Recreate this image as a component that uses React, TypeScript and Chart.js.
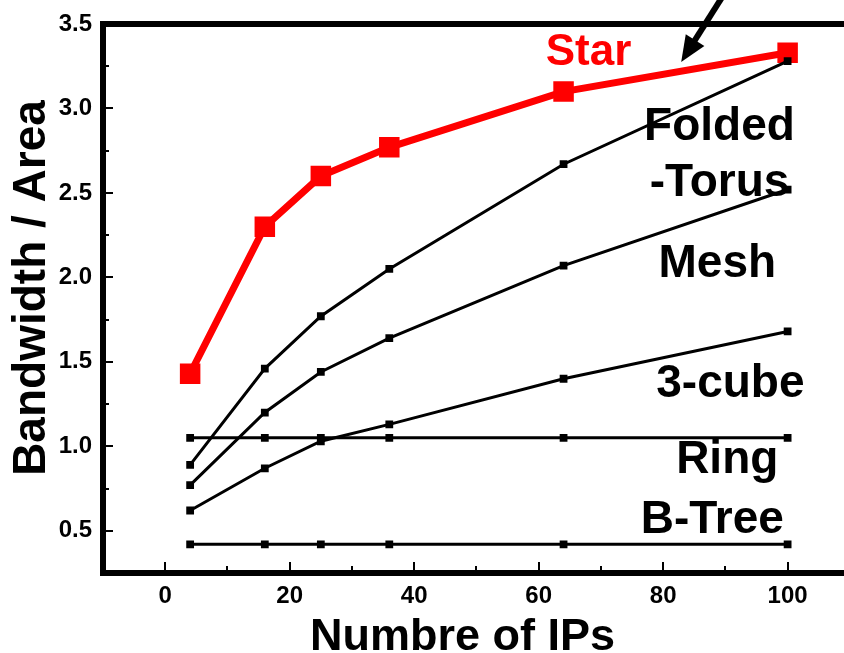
import React, { useEffect, useRef } from "react";
import { Chart, registerables } from "chart.js";

Chart.register(...registerables);

const FONT = '"Liberation Sans", Arial, Helvetica, sans-serif';

// Data
const ips = [4, 16, 25, 36, 64, 100];
const star = [1.43, 2.3, 2.6, 2.77, 3.1, 3.33];
const foldedTorus = [0.89, 1.46, 1.77, 2.05, 2.67, 3.28];
const mesh = [0.77, 1.2, 1.44, 1.64, 2.07, 2.52];
const cube3 = [0.62, 0.87, 1.03, 1.13, 1.4, 1.68];
const ring = [1.05, 1.05, 1.05, 1.05, 1.05, 1.05];
const bTree = [0.42, 0.42, 0.42, 0.42, 0.42, 0.42];

const xTicks = [0, 20, 40, 60, 80, 100];
const xMinorTicks = [10, 30, 50, 70, 90, 110];
const yTicks = [0.5, 1.0, 1.5, 2.0, 2.5, 3.0, 3.5];
const yMinorTicks = [0.75, 1.25, 1.75, 2.25, 2.75, 3.25];

// Series labels (text, anchor in data coords, color, size)
const seriesLabels = [
  { text: "Star", x: 68.0, y: 3.257, color: "#ff0000", size: 44 },
  { text: "Folded", x: 89.05, y: 2.813, color: "#000000", size: 46 },
  { text: "-Torus", x: 89.05, y: 2.482, color: "#000000", size: 46 },
  { text: "Mesh", x: 88.7, y: 2.002, color: "#000000", size: 46 },
  { text: "3-cube", x: 90.8, y: 1.292, color: "#000000", size: 46 },
  { text: "Ring", x: 90.3, y: 0.842, color: "#000000", size: 46 },
  { text: "B-Tree", x: 87.9, y: 0.486, color: "#000000", size: 46 },
];

const arrow = { fromX: 89.7, fromY: 3.672, toX: 82.9, toY: 3.275 };

const xTitle = "Numbre of IPs";
const yTitle = "Bandwidth / Area";

const toPts = (ys: number[]) => ys.map((v, i) => ({ x: ips[i], y: v }));

const decorPlugin = {
  id: "decor",
  afterDraw(chart: any) {
    const { ctx, chartArea: ca, scales } = chart;
    const xs = scales.x;
    const ys = scales.y;
    ctx.save();
    // top border
    ctx.strokeStyle = "#000";
    ctx.lineWidth = 6;
    ctx.beginPath();
    ctx.moveTo(ca.left - 3, ca.top);
    ctx.lineTo(ca.right + 5, ca.top);
    ctx.stroke();
    // inward ticks
    ctx.lineWidth = 2;
    ctx.beginPath();
    xTicks.forEach((v) => {
      const p = Math.round(xs.getPixelForValue(v));
      ctx.moveTo(p, ca.bottom);
      ctx.lineTo(p, ca.bottom - 11);
    });
    xMinorTicks.forEach((v) => {
      const p = Math.round(xs.getPixelForValue(v));
      ctx.moveTo(p, ca.bottom);
      ctx.lineTo(p, ca.bottom - 7);
    });
    yTicks.forEach((v) => {
      const p = Math.round(ys.getPixelForValue(v));
      ctx.moveTo(ca.left, p);
      ctx.lineTo(ca.left + 10, p);
    });
    yMinorTicks.forEach((v) => {
      const p = Math.round(ys.getPixelForValue(v));
      ctx.moveTo(ca.left, p);
      ctx.lineTo(ca.left + 6, p);
    });
    ctx.stroke();

    // series labels
    ctx.textAlign = "center";
    ctx.textBaseline = "alphabetic";
    seriesLabels.forEach((l) => {
      ctx.font = `bold ${l.size}px ${FONT}`;
      ctx.fillStyle = l.color;
      ctx.fillText(l.text, xs.getPixelForValue(l.x), ys.getPixelForValue(l.y));
    });

    // arrow
    const x1 = xs.getPixelForValue(arrow.fromX);
    const y1 = ys.getPixelForValue(arrow.fromY);
    const x2 = xs.getPixelForValue(arrow.toX);
    const y2 = ys.getPixelForValue(arrow.toY);
    const ang = Math.atan2(y2 - y1, x2 - x1);
    const headLen = 26;
    const headHalf = 11;
    const bx = x2 - headLen * Math.cos(ang);
    const by = y2 - headLen * Math.sin(ang);
    ctx.strokeStyle = "#000";
    ctx.lineWidth = 6;
    ctx.beginPath();
    ctx.moveTo(x1, y1);
    ctx.lineTo(bx + 2 * Math.cos(ang), by + 2 * Math.sin(ang));
    ctx.stroke();
    ctx.fillStyle = "#000";
    ctx.beginPath();
    ctx.moveTo(x2, y2);
    ctx.lineTo(bx + headHalf * Math.sin(ang), by - headHalf * Math.cos(ang));
    ctx.lineTo(bx - headHalf * Math.sin(ang), by + headHalf * Math.cos(ang));
    ctx.closePath();
    ctx.fill();

    // axis titles
    ctx.fillStyle = "#000";
    ctx.font = `bold 45px ${FONT}`;
    ctx.textAlign = "center";
    ctx.textBaseline = "alphabetic";
    ctx.fillText(xTitle, ca.left + 359.5, ca.bottom + 77);
    ctx.save();
    ctx.font = `bold 46px ${FONT}`;
    ctx.translate(ca.left - 58, ca.top + 264);
    ctx.rotate(-Math.PI / 2);
    ctx.fillText(yTitle, 0, 0);
    ctx.restore();

    ctx.restore();
  },
};

export default function App() {
  const ref = useRef<HTMLCanvasElement | null>(null);

  useEffect(() => {
    if (!ref.current) return;
    const blackSeries = [foldedTorus, mesh, cube3, ring, bTree];
    const names = ["Folded-Torus", "Mesh", "3-cube", "Ring", "B-Tree"];
    const datasets: any[] = blackSeries.map((s, i) => ({
      label: names[i],
      data: toPts(s),
      borderColor: "#000",
      backgroundColor: "#000",
      borderWidth: 3,
      pointStyle: "rect",
      pointRadius: 5.5,
      pointBorderWidth: 0,
      pointBackgroundColor: "#000",
      tension: 0,
    }));
    datasets.push({
      label: "Star",
      data: toPts(star),
      borderColor: "#ff0000",
      backgroundColor: "#ff0000",
      borderWidth: 7,
      pointStyle: "rect",
      pointRadius: 14.5,
      pointBorderWidth: 0,
      pointBackgroundColor: "#ff0000",
      tension: 0,
    });

    const tickFont = { family: FONT, size: 24, weight: "bold" as const };

    const chart = new Chart(ref.current, {
      type: "line",
      data: { datasets },
      options: {
        animation: false,
        responsive: false,
        maintainAspectRatio: false,
        layout: { padding: { top: 24, right: 0, bottom: 0, left: 0 } },
        plugins: { legend: { display: false }, tooltip: { enabled: false } },
        scales: {
          x: {
            type: "linear",
            min: -10,
            max: 109.3,
            afterFit: (s: any) => {
              s.height = 80;
              s.paddingLeft = 0;
              s.paddingRight = 0;
            },
            afterBuildTicks: (s: any) => {
              s.ticks = xTicks.map((v) => ({ value: v }));
            },
            ticks: {
              font: tickFont,
              color: "#000",
              padding: 9,
              maxRotation: 0,
              callback: (v: any) => String(v),
            },
            grid: { display: true, drawOnChartArea: false, drawTicks: false },
            border: { display: true, width: 6, color: "#000" },
          },
          y: {
            type: "linear",
            min: 0.25,
            max: 3.5,
            afterFit: (s: any) => {
              s.width = 103;
              s.paddingTop = 0;
              s.paddingBottom = 0;
            },
            afterBuildTicks: (s: any) => {
              s.ticks = yTicks.map((v) => ({ value: v }));
            },
            ticks: {
              font: tickFont,
              color: "#000",
              padding: 11,
              callback: (v: any) => Number(v).toFixed(1),
            },
            grid: { display: true, drawOnChartArea: false, drawTicks: false },
            border: { display: true, width: 6, color: "#000" },
          },
        },
      },
      plugins: [decorPlugin],
    });
    return () => chart.destroy();
  }, []);

  return (
    <div
      style={{
        position: "fixed",
        left: 0,
        top: 0,
        width: 844,
        height: 653,
        overflow: "hidden",
        background: "#fff",
      }}
    >
      <canvas ref={ref} width={860} height={653} style={{ display: "block" }} />
    </div>
  );
}
